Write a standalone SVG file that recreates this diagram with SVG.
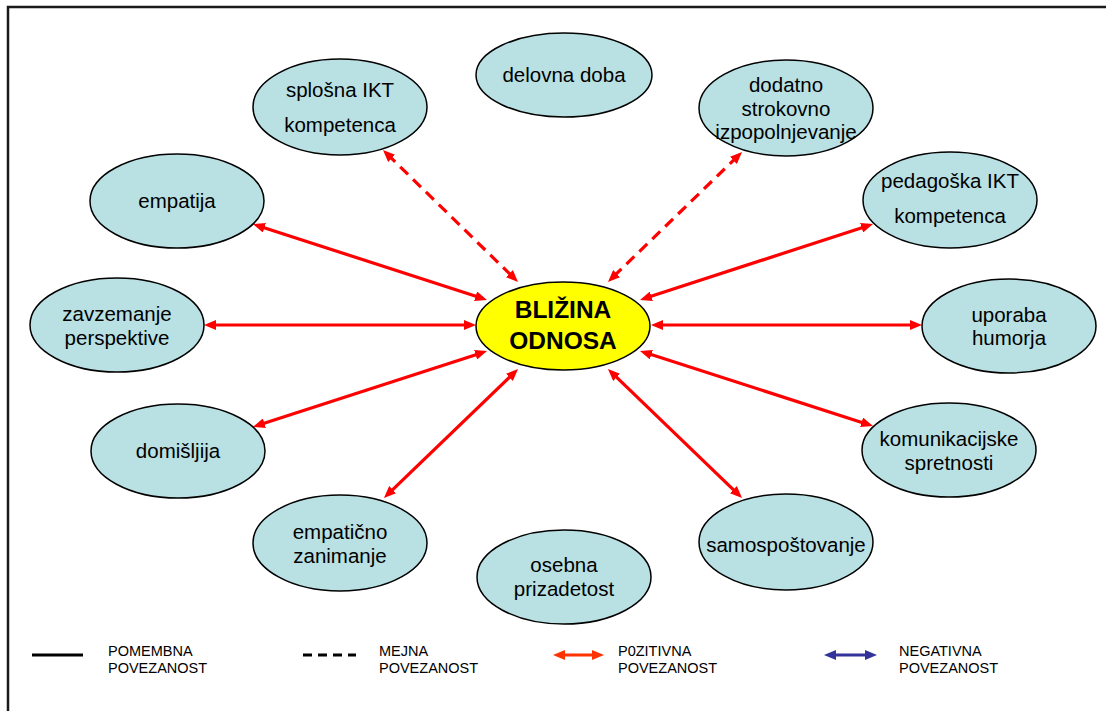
<svg xmlns="http://www.w3.org/2000/svg" width="1106" height="711" viewBox="0 0 1106 711">
  <style>
    .node ellipse { fill: #B9E0E3; stroke: #000; stroke-width: 1.5; }
    .node text { font-family: "Liberation Sans", Arial, sans-serif; font-size: 20.5px; fill: #000; text-anchor: middle; }
    #hub ellipse { fill: #FFFF00; }
    #hub text { font-weight: bold; font-size: 24.5px; }
    .link { fill: none; stroke: #FF0000; stroke-width: 3.2; marker-start: url(#head); marker-end: url(#head); }
    .link.weak { stroke-dasharray: 11 7; }
    .legend text { font-family: "Liberation Sans", Arial, sans-serif; font-size: 14.5px; fill: #000; }
  </style>
  <defs>
    <marker id="head" viewBox="0 0 12 10" markerUnits="userSpaceOnUse" markerWidth="12" markerHeight="10" refX="6" refY="5" orient="auto-start-reverse">
      <path d="M0,0 L12,5 L0,10 z" fill="#FF0000"/>
    </marker>
    <marker id="headPos" viewBox="0 0 12 10" markerUnits="userSpaceOnUse" markerWidth="12" markerHeight="10" refX="6" refY="5" orient="auto-start-reverse">
      <path d="M0,0 L12,5 L0,10 z" fill="#FF3300"/>
    </marker>
    <marker id="headNeg" viewBox="0 0 12 10" markerUnits="userSpaceOnUse" markerWidth="12" markerHeight="10" refX="6" refY="5" orient="auto-start-reverse">
      <path d="M0,0 L12,5 L0,10 z" fill="#333399"/>
    </marker>
  </defs>

  <rect width="1106" height="711" fill="#FFFFFF"/>
  <!-- page frame (runs off the right and bottom edges) -->
  <rect x="8" y="7" width="1110" height="720" fill="none" stroke="#1A1A1A" stroke-width="2.5"/>

  <!-- connectors -->
  <g id="connectors">
    <line class="link" x1="258.7" y1="225.9" x2="481.3" y2="298.1"/>
    <line class="link" x1="210" y1="325" x2="470" y2="325"/>
    <line class="link" x1="258.7" y1="425.1" x2="481.3" y2="352.9"/>
    <line class="link" x1="388.3" y1="493.8" x2="513.7" y2="373.2"/>
    <line class="link" x1="737.7" y1="493.8" x2="612.3" y2="373.2"/>
    <line class="link" x1="867.3" y1="424.2" x2="645.7" y2="352.8"/>
    <line class="link" x1="916" y1="325" x2="657" y2="325"/>
    <line class="link" x1="867.3" y1="225.9" x2="645.7" y2="298.1"/>
    <line class="link weak" x1="387.3" y1="154.2" x2="513.7" y2="277.8"/>
    <line class="link weak" x1="737.7" y1="156.2" x2="612.3" y2="277.8"/>
  </g>

  <!-- nodes -->
  <g id="hub" class="node">
    <ellipse cx="563" cy="326" rx="87" ry="44"/>
    <text x="563" y="318">BLIŽINA</text>
    <text x="563" y="349">ODNOSA</text>
  </g>
  <g id="delovna-doba" class="node">
    <ellipse cx="564" cy="75" rx="88" ry="42"/>
    <text x="564" y="82">delovna doba</text>
  </g>
  <g id="splosna-ikt" class="node">
    <ellipse cx="340" cy="107" rx="87" ry="48"/>
    <text x="340" y="97">splošna IKT</text>
    <text x="340" y="132">kompetenca</text>
  </g>
  <g id="dodatno-izpopolnjevanje" class="node">
    <ellipse cx="786" cy="108" rx="87" ry="48"/>
    <text x="786" y="92">dodatno</text>
    <text x="786" y="116">strokovno</text>
    <text x="786" y="139">izpopolnjevanje</text>
  </g>
  <g id="empatija" class="node">
    <ellipse cx="177" cy="201" rx="87" ry="47"/>
    <text x="177" y="208">empatija</text>
  </g>
  <g id="pedagoska-ikt" class="node">
    <ellipse cx="950" cy="200" rx="87" ry="48"/>
    <text x="950" y="188">pedagoška IKT</text>
    <text x="950" y="223">kompetenca</text>
  </g>
  <g id="zavzemanje" class="node">
    <ellipse cx="117" cy="325" rx="87" ry="47"/>
    <text x="117" y="321">zavzemanje</text>
    <text x="117" y="345">perspektive</text>
  </g>
  <g id="humor" class="node">
    <ellipse cx="1009" cy="326" rx="87" ry="47"/>
    <text x="1009" y="322">uporaba</text>
    <text x="1009" y="345">humorja</text>
  </g>
  <g id="domisljija" class="node">
    <ellipse cx="178" cy="451" rx="87" ry="47"/>
    <text x="178" y="458">domišljija</text>
  </g>
  <g id="komunikacija" class="node">
    <ellipse cx="949" cy="450" rx="87" ry="47"/>
    <text x="949" y="446">komunikacijske</text>
    <text x="949" y="470">spretnosti</text>
  </g>
  <g id="empaticno-zanimanje" class="node">
    <ellipse cx="340" cy="543" rx="87" ry="48"/>
    <text x="340" y="539">empatično</text>
    <text x="340" y="563">zanimanje</text>
  </g>
  <g id="prizadetost" class="node">
    <ellipse cx="564" cy="577" rx="87" ry="47"/>
    <text x="564" y="572">osebna</text>
    <text x="564" y="596">prizadetost</text>
  </g>
  <g id="samospostovanje" class="node">
    <ellipse cx="786" cy="542" rx="87" ry="48"/>
    <text x="786" y="552">samospoštovanje</text>
  </g>

  <!-- key -->
  <g id="legend" class="legend">
    <line x1="32" y1="655" x2="83" y2="655" stroke="#000" stroke-width="3"/>
    <text x="108" y="656">POMEMBNA</text>
    <text x="108" y="673">POVEZANOST</text>

    <line x1="303" y1="655" x2="356" y2="655" stroke="#000" stroke-width="3" stroke-dasharray="9 6"/>
    <text x="379" y="656">MEJNA</text>
    <text x="379" y="673">POVEZANOST</text>

    <line x1="559" y1="655" x2="598" y2="655" stroke="#FF3300" stroke-width="3" marker-start="url(#headPos)" marker-end="url(#headPos)"/>
    <text x="618" y="656">P0ZITIVNA</text>
    <text x="618" y="673">POVEZANOST</text>

    <line x1="830" y1="655" x2="871" y2="655" stroke="#333399" stroke-width="3" marker-start="url(#headNeg)" marker-end="url(#headNeg)"/>
    <text x="899" y="656">NEGATIVNA</text>
    <text x="899" y="673">POVEZANOST</text>
  </g>
</svg>
